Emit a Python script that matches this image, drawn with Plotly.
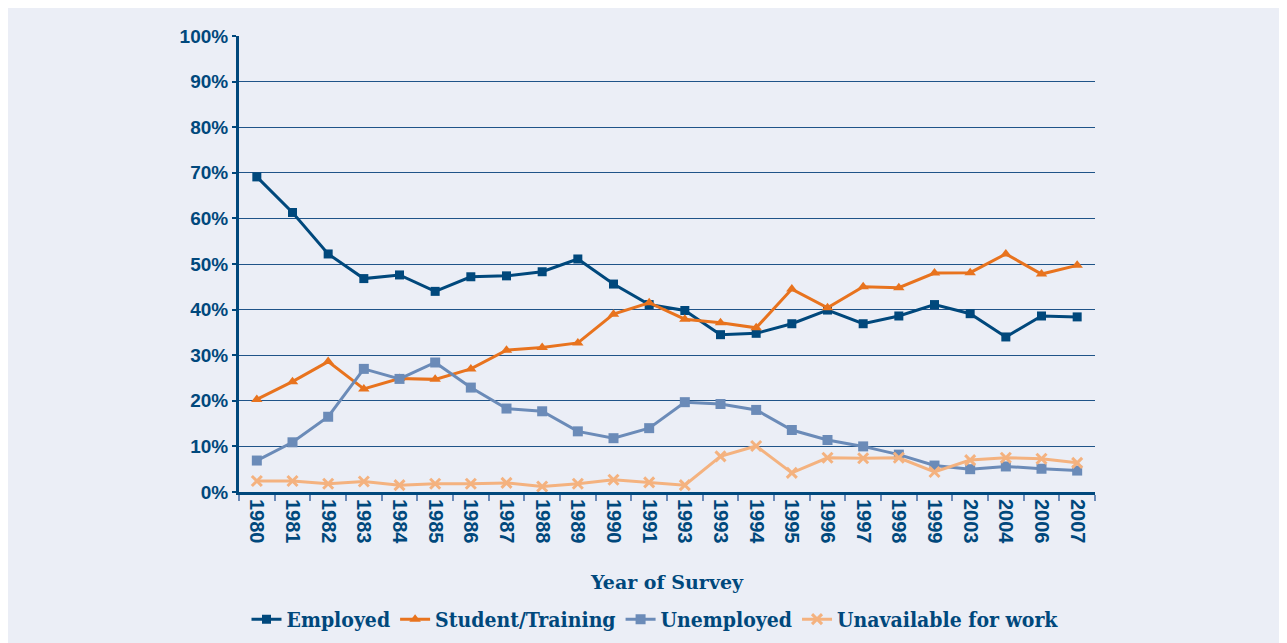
import plotly.graph_objects as go

years = ["1980", "1981", "1982", "1983", "1984", "1985", "1986", "1987", "1988",
         "1989", "1990", "1991", "1993", "1993", "1994", "1995", "1996", "1997",
         "1998", "1999", "2003", "2004", "2006", "2007"]

employed = [69.1, 61.3, 52.2, 46.8, 47.6, 44.0, 47.2, 47.4, 48.3, 51.1, 45.6, 41.1,
            39.8, 34.5, 34.8, 36.9, 39.9, 36.9, 38.6, 41.1, 39.1, 34.0, 38.6, 38.4]
student = [20.3, 24.2, 28.6, 22.6, 24.9, 24.7, 27.0, 31.1, 31.7, 32.7, 39.0, 41.5,
           37.9, 37.1, 36.0, 44.5, 40.4, 45.0, 44.8, 48.0, 48.1, 52.2, 47.8, 49.7]
unemployed = [6.9, 10.9, 16.5, 27.0, 24.8, 28.4, 22.9, 18.3, 17.7, 13.3, 11.8, 14.0,
              19.7, 19.3, 18.0, 13.6, 11.4, 10.0, 8.2, 5.8, 5.0, 5.6, 5.1, 4.7]
unavailable = [2.4, 2.4, 1.8, 2.3, 1.5, 1.8, 1.8, 2.0, 1.2, 1.8, 2.7, 2.1,
               1.5, 7.8, 10.1, 4.2, 7.5, 7.4, 7.5, 4.4, 7.0, 7.5, 7.3, 6.4]

y_ticks = [0, 10, 20, 30, 40, 50, 60, 70, 80, 90, 100]
y_labels = [f"{v}%" for v in y_ticks]

idx = list(range(len(years)))

NAVY = "#00487C"
ORANGE = "#E8731E"
LBLUE = "#6B8BB8"
PEACH = "#F4B27F"
BG = "#EBEEF6"

series = [
    ("Employed", employed, NAVY, "square", 9),
    ("Student/Training", student, ORANGE, "triangle-up", 10),
    ("Unemployed", unemployed, LBLUE, "square", 10),
    ("Unavailable for work", unavailable, PEACH, "x-thin-open", 10),
]

fig = go.Figure()
for name, vals, col, sym, sz in series:
    marker = dict(symbol=sym, size=sz, color=col)
    if sym.startswith("x"):
        marker["line"] = dict(color=col, width=3)
    fig.add_trace(go.Scatter(
        x=idx, y=vals, name=name, mode="lines+markers",
        line=dict(color=col, width=3), marker=marker,
    ))

# page body has an 8px offset; design in figure coords = page coords - 8
OFF = 8
W, H = 1287 - OFF, 643 - OFF
L, T, R, B = 239 - OFF, 36 - OFF, 1095 - OFF, 492 - OFF
pw, ph = R - L, B - T

fig.update_layout(
    width=W, height=H,
    margin=dict(l=L, r=W - R, t=T, b=H - B, autoexpand=False),
    paper_bgcolor=BG,
    plot_bgcolor=BG,
    showlegend=True,
    legend=dict(orientation="h", x=(655 - OFF - L) / pw, xanchor="center",
                y=(B - (599 - OFF)) / ph, yanchor="top",
                font=dict(family="DejaVu Serif Condensed, DejaVu Serif", size=21,
                          color=NAVY, weight="bold"),
                tracegroupgap=0, bgcolor="rgba(0,0,0,0)"),
    font=dict(family="Liberation Sans, Arial, sans-serif", color=NAVY),
)

fig.update_xaxes(
    type="category", automargin=False,
    tickmode="array", tickvals=idx, ticktext=years,
    tickson="boundaries", ticks="outside", ticklen=6, tickcolor=LBLUE, tickwidth=1.5,
    tickangle=90,
    tickfont=dict(size=20, color=NAVY, family="Liberation Sans, Arial, sans-serif", weight="bold"),
    showline=True, linecolor=NAVY, linewidth=3,
    showgrid=False, zeroline=False,
    range=[-0.5, len(years) - 0.5],
    title=dict(text="Year of Survey", standoff=33,
               font=dict(family="DejaVu Serif, serif", size=19, color=NAVY, weight="bold")),
)

fig.update_yaxes(
    range=[0, 100], automargin=False,
    tickmode="array", tickvals=y_ticks, ticktext=y_labels,
    ticks="outside", ticklen=4, tickcolor=NAVY, tickwidth=1.5,
    tickfont=dict(size=19, color=NAVY, family="Liberation Sans, Arial, sans-serif", weight="bold"),
    showline=True, linecolor=NAVY, linewidth=3,
    showgrid=True, gridcolor="#1F5388", gridwidth=1.4,
    zeroline=False,
)

fig.write_html("out.html")
